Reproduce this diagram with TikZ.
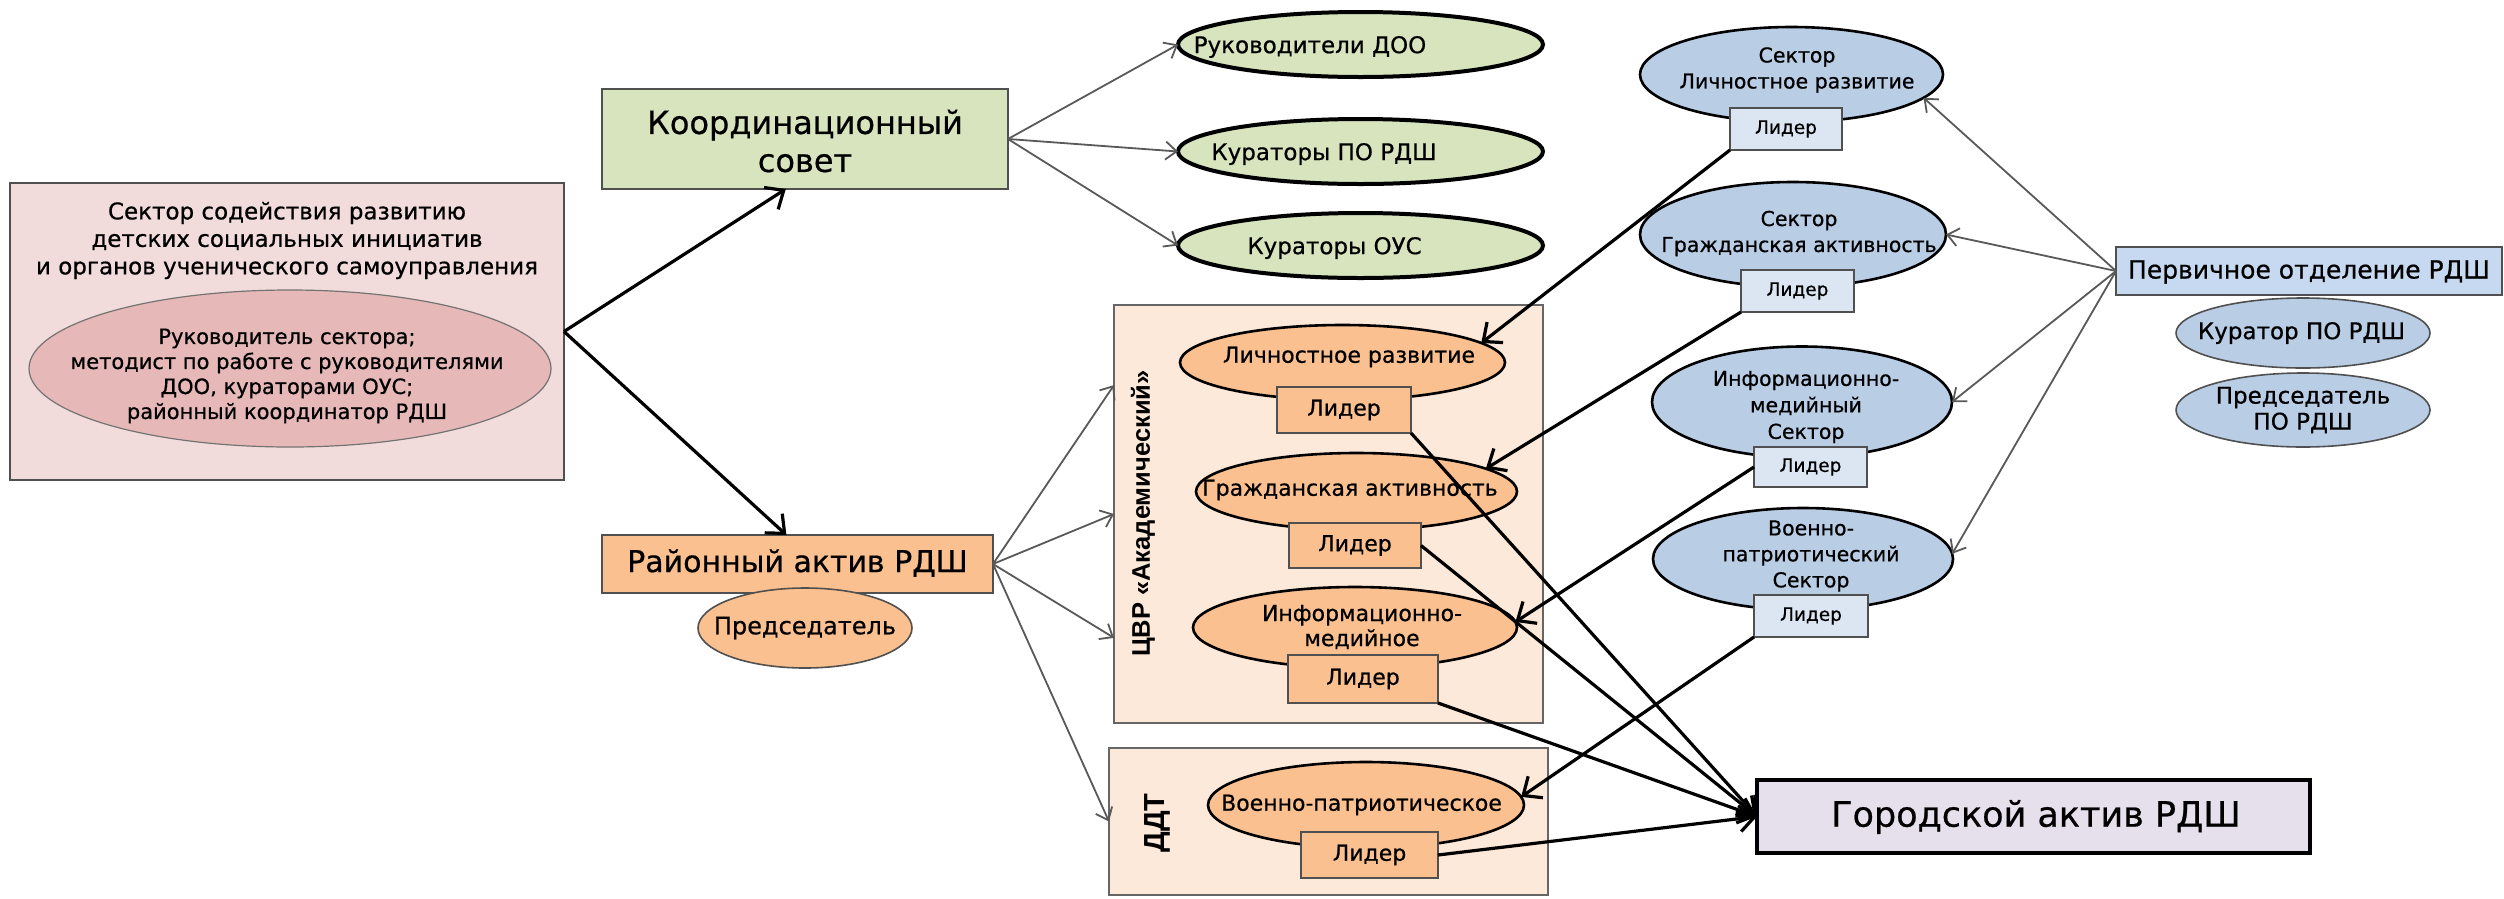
\documentclass[tikz,border=0pt]{standalone}
\usepackage{fontspec}
\setmainfont{DejaVu Sans}[FakeBold=0.6]
\newfontfamily\vertfont{Liberation Sans}
\usetikzlibrary{shapes.geometric,arrows.meta}
\definecolor{pinkL}{HTML}{F2DCDB}
\definecolor{pinkD}{HTML}{E6B9B8}
\definecolor{greenL}{HTML}{D7E4BD}
\definecolor{orangeM}{HTML}{FAC090}
\definecolor{peach}{HTML}{FDE9D9}
\definecolor{blueM}{HTML}{B9CDE5}
\definecolor{blueL}{HTML}{DCE6F2}
\definecolor{blueP}{HTML}{C6D9F1}
\definecolor{lav}{HTML}{E6E0EC}
\definecolor{agray}{HTML}{595959}
\definecolor{bgray}{HTML}{505050}
\newcommand\myfs[2]{\fontsize{#1}{#2}\selectfont}
\tikzset{
  base/.style={inner sep=0pt, outer sep=0pt},
  txt/.style={base, align=center, text=black},
  ov/.style={base, ellipse, draw},
  bx/.style={base, rectangle, draw},
  tarrow/.style={draw=agray, line width=1.8pt, -{Straight Barb[length=11pt,width=18pt]}},
  karrow/.style={draw=black, line width=3.2pt, -{Straight Barb[length=15pt,width=26pt]}},
  greenov/.style={ov, fill=greenL, draw=black, line width=4pt, minimum width=365, minimum height=65},
  orangeov/.style={ov, fill=orangeM, draw=black, line width=2.6pt},
  blueov/.style={ov, fill=blueM, draw=black, line width=2.6pt},
  olead/.style={bx, fill=orangeM, draw=bgray, line width=2pt, font=\myfs{22}{26}},
  blead/.style={bx, fill=blueL, draw=bgray, line width=1.6pt, font=\myfs{18.5}{22}},
}
\begin{document}
\begin{tikzpicture}[x=1pt,y=-1pt]
\useasboundingbox[fill=white] (0,0) rectangle (2504,898);

% left sector
\node[bx, fill=pinkL, draw=bgray, line width=1.6pt, minimum width=554, minimum height=297] (sec) at (287,331.5) {};
\node[txt, font=\myfs{23}{27.5}] (sect) at (287,240.5) {Сектор содействия развитию\\детских социальных инициатив\\и органов ученического самоуправления};
\node[ov, fill=pinkD, draw=bgray!80, line width=1.2pt, minimum width=522, minimum height=157] (secel) at (290,368.5) {};
\node[txt, font=\myfs{21}{25}] (secelt) at (287,376) {Руководитель сектора;\\методист по работе с руководителями\\ДОО, кураторами ОУС;\\районный координатор РДШ};

% coordination council
\node[bx, fill=greenL, draw=bgray, line width=2pt, minimum width=406, minimum height=100] (koord) at (805,139) {};
\node[txt, font=\myfs{32}{38}] (koordt) at (805,141) {Координационный\\совет};
\node[greenov] (g1) at (1360.5,44.5) {};
\node[txt, font=\myfs{23}{27}] (g1t) at (1310,47) {Руководители ДОО};
\node[greenov] (g2) at (1360.5,151.5) {};
\node[txt, font=\myfs{23}{27}] (g2t) at (1324,154) {Кураторы ПО РДШ};
\node[greenov] (g3) at (1360.5,245.5) {};
\node[txt, font=\myfs{23}{27}] (g3t) at (1334.5,248) {Кураторы ОУС};

% district
\node[bx, fill=orangeM, draw=bgray, line width=2pt, minimum width=391, minimum height=58] (rayon) at (797.5,564) {};
\node[txt, font=\myfs{30}{34}] (rayont) at (797.5,563) {Районный актив РДШ};
\node[ov, fill=orangeM, draw=bgray, line width=1.6pt, minimum width=214, minimum height=80] (pred) at (805,628) {};
\node[txt, font=\myfs{24}{28}] (predt) at (805,628) {Председатель};

% CVR and DDT
\node[bx, fill=peach, draw=gray!80!black, line width=2pt, minimum width=429, minimum height=418] (cvr) at (1328.5,514) {};
\node[txt, rotate=90, font=\vertfont\bfseries\myfs{25.5}{28}] (cvrt) at (1143,513.5) {ЦВР «Академический»};
\node[bx, fill=peach, draw=gray!80!black, line width=2pt, minimum width=439, minimum height=147] (ddt) at (1328.5,821.5) {};
\node[txt, rotate=90, font=\vertfont\bfseries\myfs{29}{32}] (ddtt) at (1157,823) {ДДТ};

\node[orangeov, minimum width=325, minimum height=75] (lr) at (1342.5,362.5) {};
\node[txt, font=\myfs{22}{26}] (lrt) at (1349,357) {Личностное развитие};
\node[olead, minimum width=134, minimum height=46] (ol1) at (1344,410) {Лидер};
\node[orangeov, minimum width=321, minimum height=77] (ga) at (1356.5,491.5) {};
\node[txt, font=\myfs{22}{26}] (gat) at (1350,490) {Гражданская активность};
\node[olead, minimum width=132, minimum height=45] (ol2) at (1355,545.5) {Лидер};
\node[orangeov, minimum width=324, minimum height=81] (im) at (1355,627.5) {};
\node[txt, font=\myfs{22}{25}] (imt) at (1362,627) {Информационно-\\медийное};
\node[olead, minimum width=150, minimum height=48] (ol3) at (1363,679) {Лидер};
\node[orangeov, minimum width=316, minimum height=86] (vp) at (1366,805) {};
\node[txt, font=\myfs{22}{26}] (vpt) at (1361.5,805) {Военно-патриотическое};
\node[olead, minimum width=137, minimum height=46] (ol4) at (1369.5,855) {Лидер};

% blue sectors
\node[blueov, minimum width=303, minimum height=95] (bs1) at (1791.5,74.5) {};
\node[txt, font=\myfs{20.5}{26}] (bs1t) at (1797,70) {Сектор\\Личностное развитие};
\node[blead, minimum width=112, minimum height=42] (bl1) at (1786,129) {Лидер};
\node[blueov, minimum width=306, minimum height=105] (bs2) at (1793,234.5) {};
\node[txt, font=\myfs{20.5}{26}] (bs2t) at (1799,233.5) {Сектор\\Гражданская активность};
\node[blead, minimum width=113, minimum height=42] (bl2) at (1797.5,291) {Лидер};
\node[blueov, minimum width=300, minimum height=111] (bs3) at (1802,402) {};
\node[txt, font=\myfs{20.5}{26.5}] (bs3t) at (1806,407) {Информационно-\\медийный\\Сектор};
\node[blead, minimum width=113, minimum height=40] (bl3) at (1810.5,467) {Лидер};
\node[blueov, minimum width=300, minimum height=102] (bs4) at (1803,559) {};
\node[txt, font=\myfs{20.5}{26}] (bs4t) at (1811,556) {Военно-\\патриотический\\Сектор};
\node[blead, minimum width=114, minimum height=42] (bl4) at (1811,616) {Лидер};

% primary branch
\node[bx, fill=blueP, draw=bgray, line width=1.6pt, minimum width=386, minimum height=48] (prim) at (2309,271) {};
\node[txt, font=\myfs{25}{29}] (primt) at (2309,272) {Первичное отделение РДШ};
\node[ov, fill=blueM, draw=bgray, line width=1.6pt, minimum width=254, minimum height=70] (kur) at (2303,333) {};
\node[txt, font=\myfs{23}{27}] (kurt) at (2301.5,333) {Куратор ПО РДШ};
\node[ov, fill=blueM, draw=bgray, line width=1.6pt, minimum width=254, minimum height=74] (ppo) at (2303,410) {};
\node[txt, font=\myfs{23}{26}] (ppot) at (2303,410) {Председатель\\ПО РДШ};

% city
\node[bx, fill=lav, draw=black, line width=3.5pt, minimum width=553, minimum height=73] (gor) at (2033.5,816.5) {};
\node[txt, font=\myfs{35}{40}] (gort) at (2036,817) {Городской актив РДШ};

% thin arrows
\draw[tarrow] (koord.east) -- (g1.west);
\draw[tarrow] (koord.east) -- (g2.west);
\draw[tarrow] (koord.east) -- (g3.west);
\draw[tarrow] (rayon.east) -- (cvr.149.5);
\draw[tarrow] (rayon.east) -- (cvr.180.8);
\draw[tarrow] (rayon.east) -- (cvr.210.9);
\draw[tarrow] (rayon.east) -- (ddt.west);
\draw[tarrow] (prim.west) -- (bs1.-10);
\draw[tarrow] (prim.west) -- (bs2.east);
\draw[tarrow] (prim.west) -- (bs3.east);
\draw[tarrow] (prim.west) -- (bs4.2);

% thick arrows
\draw[karrow] (sec.east) -- (koord.249);
\draw[karrow] (sec.east) -- (rayon.111);
\draw[karrow] (bl1.south west) -- (lr.8);
\draw[karrow] (bl2.south west) -- (ga.10);
\draw[karrow] (bl3.west) -- (im.2);
\draw[karrow] (bl4.south west) -- (vp.3);
\draw[karrow] (ol1.south east) -- (gor.west);
\draw[karrow] (ol2.east) -- (gor.west);
\draw[karrow] (ol3.south east) -- (gor.west);
\draw[karrow] (ol4.east) -- (gor.west);
\end{tikzpicture}
\end{document}
